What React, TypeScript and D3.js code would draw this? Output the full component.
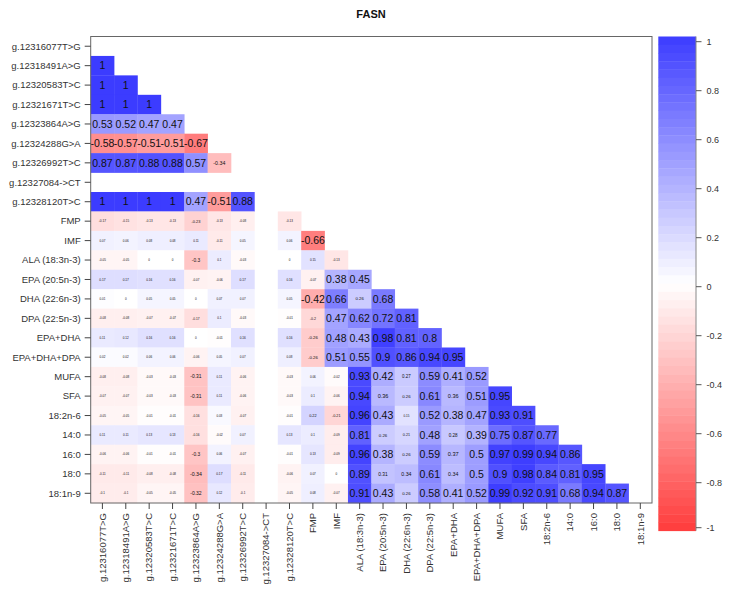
import React from "react";
import * as d3 from "d3";

const labels: string[] = [
  "g.12316077T>G", "g.12318491A>G", "g.12320583T>C", "g.12321671T>C",
  "g.12323864A>G", "g.12324288G>A", "g.12326992T>C", "g.12327084->CT",
  "g.12328120T>C", "FMP", "IMF", "ALA (18:3n-3)", "EPA (20:5n-3)",
  "DHA (22:6n-3)", "DPA (22:5n-3)", "EPA+DHA", "EPA+DHA+DPA", "MUFA",
  "SFA", "18:2n-6", "14:0", "16:0", "18:0", "18:1n-9",
];

const N = null;
// lower triangle: row k+1 holds correlations with columns 0..k
const corrLower: (number | null)[][] = [
  [1],
  [1, 1],
  [1, 1, 1],
  [0.53, 0.52, 0.47, 0.47],
  [-0.58, -0.57, -0.51, -0.51, -0.67],
  [0.87, 0.87, 0.88, 0.88, 0.57, -0.34],
  [N, N, N, N, N, N, N],
  [1, 1, 1, 1, 0.47, -0.51, 0.88, N],
  [-0.17, -0.15, -0.13, -0.13, -0.23, -0.13, -0.08, N, -0.13],
  [0.07, 0.06, 0.08, 0.08, 0.11, -0.11, 0.05, N, 0.06, -0.66],
  [-0.05, -0.05, 0, 0, -0.3, 0.1, -0.03, N, 0, 0.15, -0.13],
  [0.17, 0.17, 0.16, 0.16, -0.07, -0.06, 0.17, N, 0.16, -0.07, 0.38, 0.45],
  [0.01, 0, 0.05, 0.05, 0, 0.07, 0.07, N, 0.05, -0.42, 0.66, 0.26, 0.68],
  [-0.08, -0.08, -0.07, -0.07, -0.17, 0.1, -0.03, N, -0.01, -0.2, 0.47, 0.62, 0.72, 0.81],
  [0.11, 0.12, 0.16, 0.16, 0, -0.01, 0.16, N, 0.16, -0.26, 0.48, 0.43, 0.98, 0.81, 0.8],
  [0.02, 0.02, 0.06, 0.06, -0.06, 0.05, 0.07, N, 0.08, -0.26, 0.51, 0.55, 0.9, 0.86, 0.94, 0.95],
  [-0.08, -0.08, -0.03, -0.03, -0.31, 0.11, -0.06, N, -0.03, 0.06, -0.02, 0.93, 0.42, 0.27, 0.59, 0.41, 0.52],
  [-0.07, -0.07, -0.03, -0.03, -0.31, 0.11, -0.06, N, -0.03, 0.1, -0.06, 0.94, 0.36, 0.26, 0.61, 0.36, 0.51, 0.95],
  [-0.05, -0.05, -0.01, -0.01, -0.16, 0.03, -0.07, N, -0.01, 0.22, -0.21, 0.96, 0.43, 0.15, 0.52, 0.38, 0.47, 0.93, 0.91],
  [0.11, 0.11, 0.13, 0.13, -0.16, -0.02, 0.07, N, 0.13, 0.1, -0.09, 0.81, 0.26, 0.21, 0.48, 0.28, 0.39, 0.75, 0.87, 0.77],
  [-0.06, -0.06, -0.01, -0.01, -0.3, 0.06, -0.07, N, -0.01, 0.13, -0.09, 0.96, 0.38, 0.26, 0.59, 0.37, 0.5, 0.97, 0.99, 0.94, 0.86],
  [-0.11, -0.11, -0.08, -0.08, -0.34, 0.17, -0.11, N, -0.06, 0.07, 0, 0.89, 0.31, 0.34, 0.61, 0.34, 0.5, 0.9, 0.98, 0.84, 0.81, 0.95],
  [-0.1, -0.1, -0.05, -0.05, -0.32, 0.12, -0.1, N, -0.05, 0.08, -0.07, 0.91, 0.43, 0.26, 0.58, 0.41, 0.52, 0.99, 0.92, 0.91, 0.68, 0.94, 0.87],
];

const legendTicks: number[] = [1, 0.8, 0.6, 0.4, 0.2, 0, -0.2, -0.4, -0.6, -0.8, -1];
const titleText = "FASN";

const W = 730;
const H = 593;
const plotL = 90.7;
const plotR = 652;
const plotT = 36.5;
const plotB = 503;
const legL = 658.3;
const legR = 696;
const legT = 36.5;
const legB = 530.7;
const FONT = "'Liberation Sans', Arial, sans-serif";

export default function App() {
  const x = d3.scaleBand<string>().domain(labels).range([plotL, plotR]);
  const y = d3.scaleBand<string>().domain(labels).range([plotT, plotB]);
  const color = d3
    .scaleLinear<string>()
    .domain([-1, 0, 1])
    .range(["#FF3C3C", "#FFFFFF", "#3C3CFF"])
    .interpolate(d3.interpolateRgb);

  const cells: { r: number; c: number; v: number }[] = [];
  corrLower.forEach((row, k) => {
    row.forEach((v, c) => {
      if (v !== null) cells.push({ r: k + 1, c, v });
    });
  });

  const fontFor = (v: number) => {
    const a = Math.abs(v);
    if (a >= 0.38) return 10.5;
    return 3 + 12 * Math.max(0, a - 0.15);
  };

  const nBands = 60;
  const bands = d3.range(nBands);
  const bandH = (legB - legT) / nBands;
  const legY = d3.scaleLinear().domain([1, -1]).range([legT + 5.2, legT + 5.2 + 490]);
  const tickY = (v: number) => Math.min(legY(v), legB - 3);

  return (
    <svg
      width={W}
      height={H}
      style={{ position: "absolute", left: 0, top: 0, background: "#fff" }}
      fontFamily={FONT}
    >
      <rect x={0} y={0} width={W} height={H} fill="#fff" />
      <text x={371} y={18} textAnchor="middle" fontWeight="bold" fontSize={11} fill="#111">
        {titleText}
      </text>

      {cells.map((d, i) => (
        <rect
          key={"c" + i}
          x={x(labels[d.c])!}
          y={y(labels[d.r])!}
          width={x.bandwidth() + 0.3}
          height={y.bandwidth() + 0.3}
          fill={color(d.v)}
        />
      ))}
      {cells.map((d, i) => (
        <text
          key={"t" + i}
          x={x(labels[d.c])! + x.bandwidth() / 2}
          y={y(labels[d.r])! + y.bandwidth() / 2}
          dy="0.36em"
          textAnchor="middle"
          fontSize={fontFor(d.v)}
          fill="#111"
        >
          {String(d.v)}
        </text>
      ))}

      <rect
        x={plotL}
        y={plotT}
        width={plotR - plotL}
        height={plotB - plotT}
        fill="none"
        stroke="#666"
        strokeWidth={1}
      />

      {labels.map((l) => {
        const cy = y(l)! + y.bandwidth() / 2;
        return (
          <g key={"rl" + l}>
            <line x1={plotL - 6} x2={plotL} y1={cy} y2={cy} stroke="#444" strokeWidth={1} />
            <text x={plotL - 10} y={cy} dy="0.35em" textAnchor="end" fontSize={9.5} fill="#333">
              {l}
            </text>
          </g>
        );
      })}

      {labels.map((l) => {
        const cx = x(l)! + x.bandwidth() / 2;
        return (
          <g key={"cl" + l}>
            <line x1={cx} x2={cx} y1={plotB} y2={plotB + 6} stroke="#444" strokeWidth={1} />
            <text
              transform={`translate(${cx},${plotB + 10}) rotate(-90)`}
              dy="0.35em"
              textAnchor="end"
              fontSize={9.5}
              fill="#333"
            >
              {l}
            </text>
          </g>
        );
      })}

      {bands.map((b) => {
        const v = 1 - (2 * (b + 0.5)) / nBands;
        return (
          <rect
            key={"lb" + b}
            x={legL}
            y={legT + b * bandH}
            width={legR - legL}
            height={bandH + 0.4}
            fill={color(v)}
          />
        );
      })}
      <line x1={legR} x2={legR} y1={legT} y2={legB} stroke="#888" strokeWidth={1} />
      {legendTicks.map((t) => (
        <g key={"lt" + t}>
          <line x1={legR} x2={legR + 5.5} y1={tickY(t)} y2={tickY(t)} stroke="#555" strokeWidth={1} />
          <text x={legR + 10.5} y={tickY(t)} dy="0.35em" fontSize={9} fill="#333">
            {String(t)}
          </text>
        </g>
      ))}
    </svg>
  );
}
